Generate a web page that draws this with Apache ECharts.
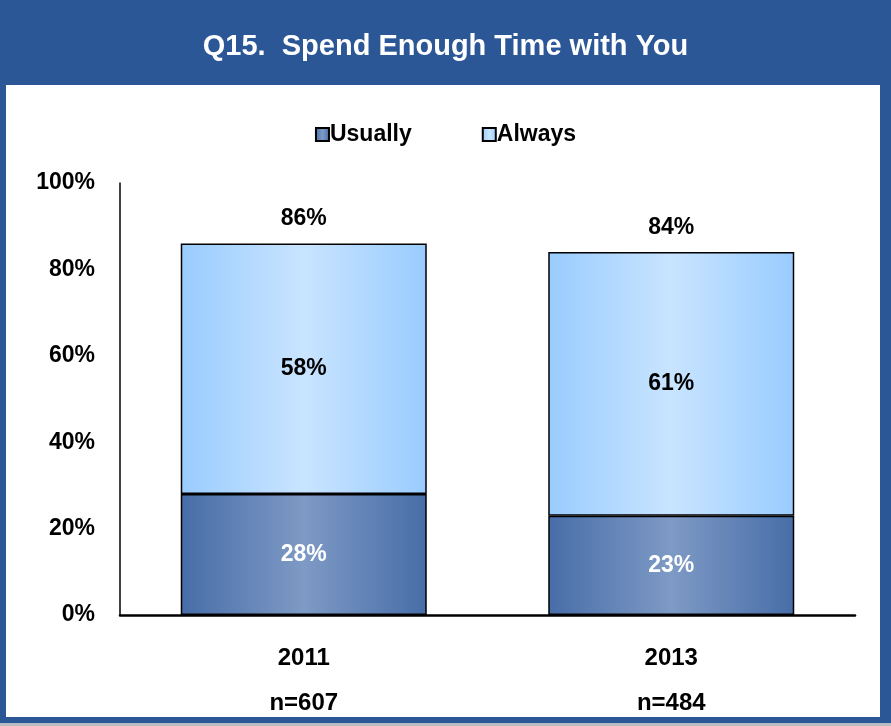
<!DOCTYPE html>
<html>
<head>
<meta charset="utf-8">
<script src="https://cdn.jsdelivr.net/npm/echarts@6/dist/echarts.min.js"></script>
<style>
  html, body { margin: 0; padding: 0; background: #fff; }
  #chart { width: 891px; height: 726px; }
</style>
</head>
<body>
<div id="chart"></div>
<script>
// data
const years = ['2011', '2013']
const sampleSizes = ['n=607', 'n=484']
const usually = [28, 23]
const always = [58, 61]
const totals = [86, 84]

const FONT = 'Liberation Sans, Arial, sans-serif'

function hGrad(edge, mid) {
  return new echarts.graphic.LinearGradient(0, 0, 1, 0, [
    { offset: 0, color: edge },
    { offset: 0.5, color: mid },
    { offset: 1, color: edge }
  ])
}

const labelText = {
  color: '#000',
  fontSize: 23,
  fontWeight: 'bold',
  fontFamily: FONT
}

const chart = echarts.init(document.getElementById('chart'))

chart.setOption({
  backgroundColor: '#fff',
  animation: false,
  graphic: [
    { type: 'rect', z: -10, shape: { x: 0, y: 0, width: 891, height: 723 }, style: { fill: '#2B5797' } },
    { type: 'rect', z: -10, shape: { x: 0, y: 723, width: 891, height: 3 }, style: { fill: '#B8BCC4' } },
    { type: 'rect', z: -9, shape: { x: 6, y: 85, width: 874, height: 632 }, style: { fill: '#fff' } }
  ],
  title: {
    text: 'Q15.  Spend Enough Time with You',
    left: 'center',
    top: 27,
    textStyle: {
      color: '#fff',
      fontSize: 29,
      fontWeight: 'bold',
      fontFamily: FONT
    }
  },
  legend: {
    top: 118,
    left: 'center',
    itemGap: 70,
    itemWidth: 13,
    itemHeight: 13,
    icon: 'rect',
    data: ['Usually', 'Always'],
    textStyle: Object.assign({}, labelText, { padding: [0, 0, 0, -4] })
  },
  grid: {
    left: 120,
    right: 36,
    top: 183,
    bottom: 111
  },
  xAxis: {
    type: 'category',
    data: years,
    axisLine: { lineStyle: { color: '#000', width: 2.5 } },
    axisTick: { show: false },
    axisLabel: {
      margin: 21,
      formatter: (v, i) => '{y|' + v + '}\n{n|' + sampleSizes[i] + '}',
      rich: {
        y: Object.assign({}, labelText, { fontSize: 24, height: 45 }),
        n: Object.assign({}, labelText, { fontSize: 24, height: 45 })
      }
    }
  },
  yAxis: {
    type: 'value',
    min: 0,
    max: 100,
    interval: 20,
    axisLine: { show: true, lineStyle: { color: '#000', width: 1.5 } },
    axisTick: { show: false },
    splitLine: { show: false },
    axisLabel: Object.assign({ formatter: '{value}%', margin: 25 }, labelText)
  },
  series: [
    {
      name: 'Usually',
      type: 'bar',
      stack: 'total',
      barWidth: 246,
      data: usually,
      itemStyle: {
        color: hGrad('#476DA8', '#7E9AC5'),
        borderColor: '#000',
        borderWidth: 1.5
      },
      label: Object.assign({ show: true, position: 'inside', formatter: '{c}%' }, labelText, { color: '#fff' })
    },
    {
      name: 'Always',
      type: 'bar',
      stack: 'total',
      barWidth: 246,
      data: always,
      itemStyle: {
        color: hGrad('#99CCFF', '#C9E4FF'),
        borderColor: '#000',
        borderWidth: 1.5
      },
      label: Object.assign({ show: true, position: 'inside', formatter: '{c}%' }, labelText)
    },
    {
      name: 'Total',
      type: 'scatter',
      data: totals,
      symbolSize: 0,
      silent: true,
      itemStyle: { opacity: 1 },
      label: Object.assign({ show: true, position: 'top', distance: 13, formatter: '{c}%' }, labelText)
    }
  ]
})
</script>
</body>
</html>
